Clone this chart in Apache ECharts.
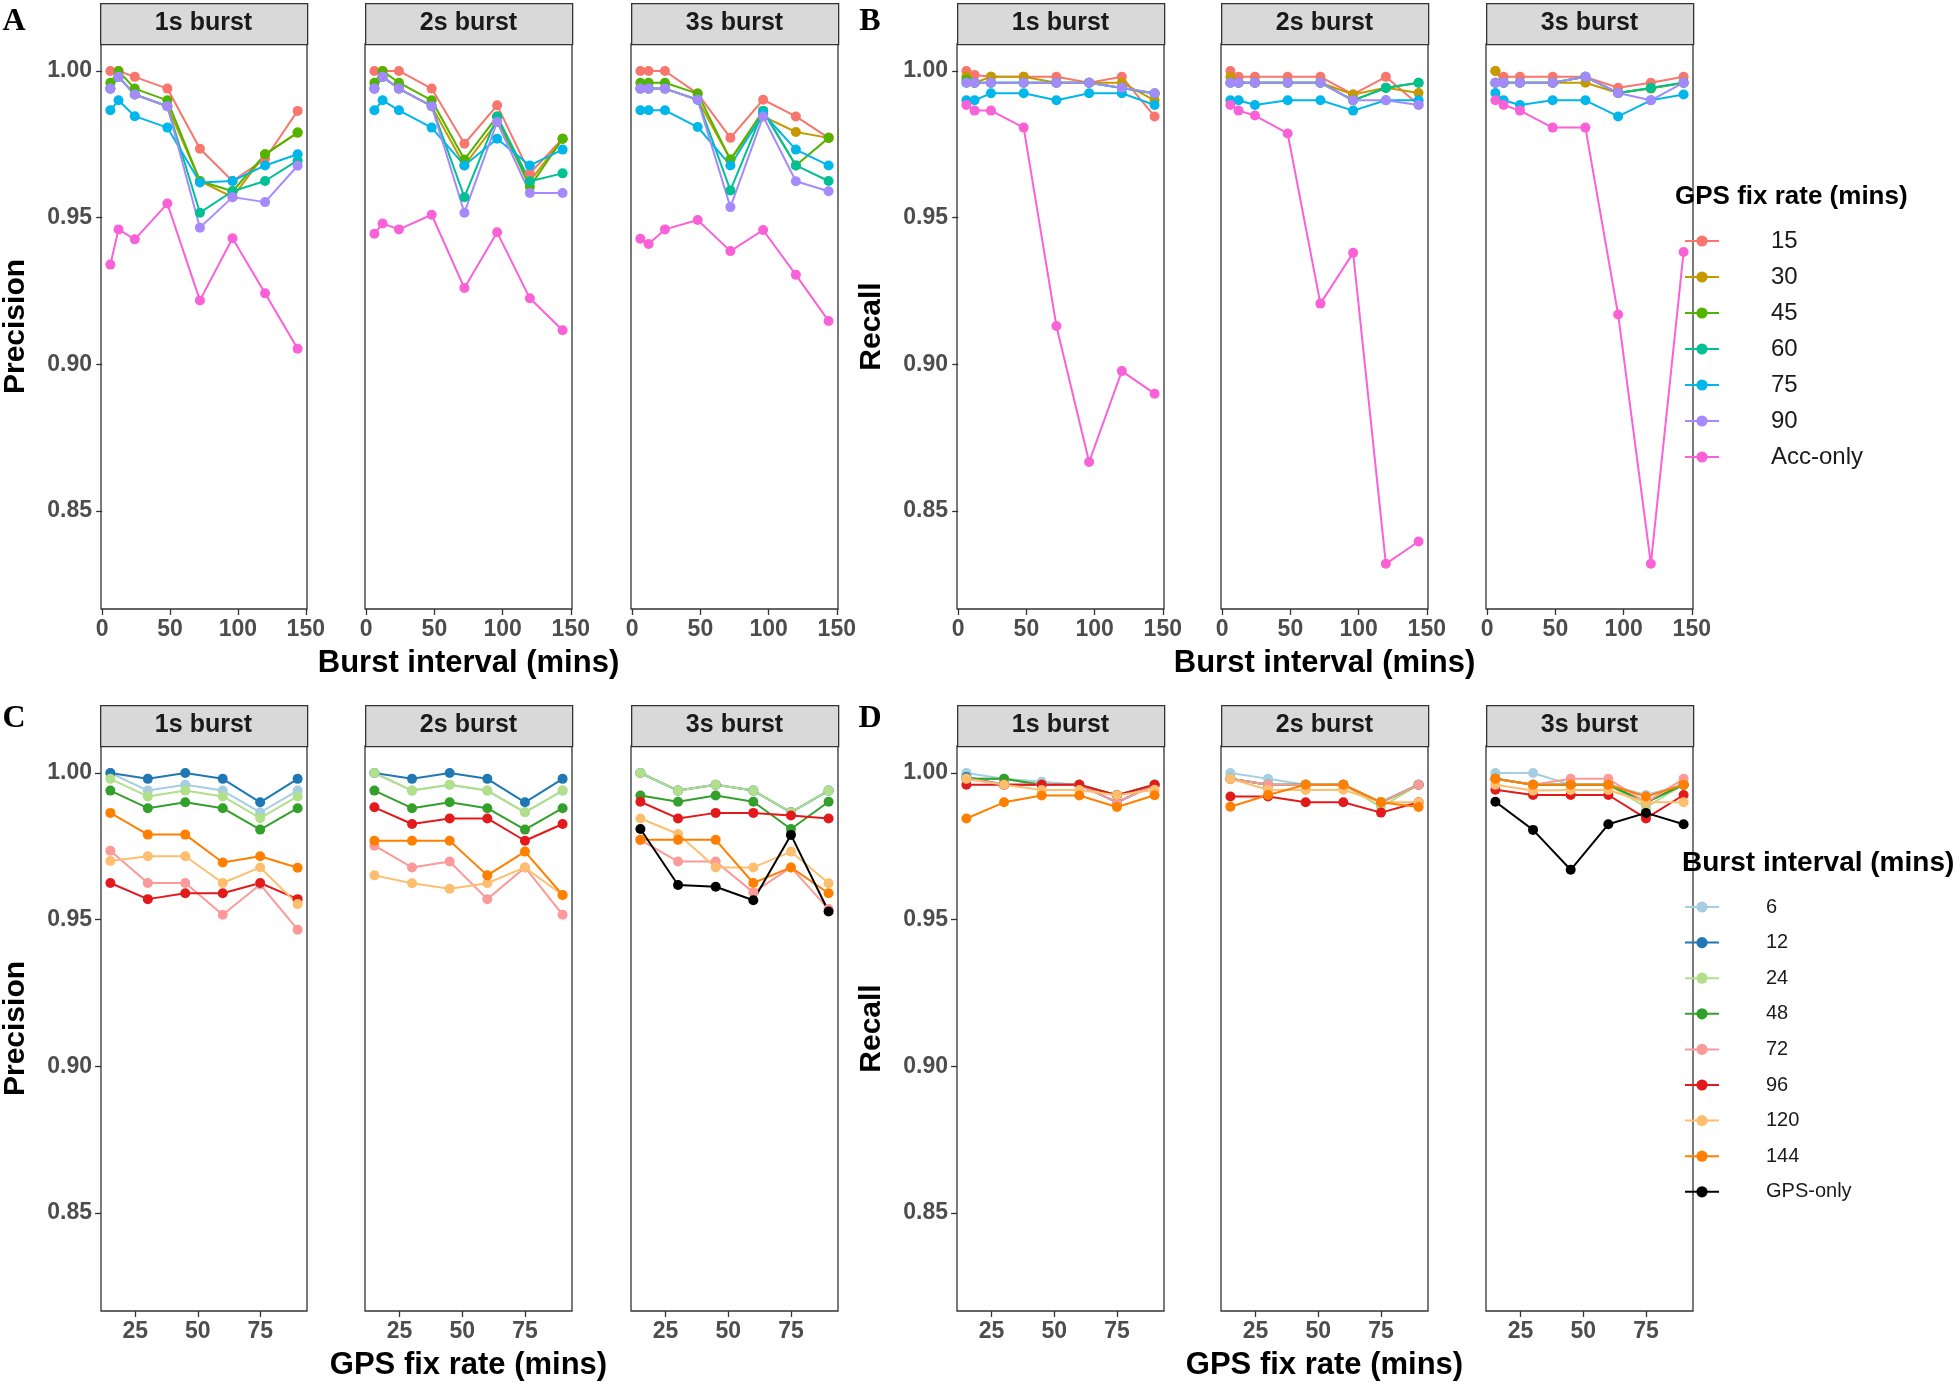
<!DOCTYPE html>
<html><head><meta charset="utf-8">
<script src="https://cdn.jsdelivr.net/npm/echarts@6/dist/echarts.min.js"></script>
<style>html,body{margin:0;padding:0;background:#fff}#c{width:1960px;height:1384px}</style>
</head><body><div id="c"></div>
<script>
// ---------- data ----------
const burstIntervals = [6, 12, 24, 48, 72, 96, 120, 144];
const fixRates = [15, 30, 45, 60, 75, 90];
const fixRateNames = ['15', '30', '45', '60', '75', '90'];
const burstNames = ['6', '12', '24', '48', '72', '96', '120', '144'];
const facetNames = ['1s burst', '2s burst', '3s burst'];
const yTicks = [0.85, 0.90, 0.95, 1.00];
const xTicksBurst = [0, 50, 100, 150];
const xTicksFix = [25, 50, 75];

// rows: burst interval 6..144 ; columns: GPS fix rate 15..90
const precision1s = [
  [1.000, 0.994, 0.996, 0.994, 0.9866, 0.994],
  [1.000, 0.998, 1.000, 0.998, 0.990, 0.998],
  [0.998, 0.992, 0.994, 0.992, 0.9846, 0.992],
  [0.994, 0.988, 0.990, 0.988, 0.9807, 0.988],
  [0.9735, 0.9625, 0.9625, 0.9517, 0.962, 0.9466],
  [0.9625, 0.957, 0.959, 0.959, 0.9625, 0.957],
  [0.970, 0.9716, 0.9716, 0.9625, 0.9678, 0.9553],
  [0.9864, 0.979, 0.979, 0.9695, 0.9716, 0.9677]
];
const precision2s = [
  [1.000, 0.994, 0.996, 0.994, 0.9866, 0.994],
  [1.000, 0.998, 1.000, 0.998, 0.990, 0.998],
  [1.000, 0.994, 0.996, 0.994, 0.9866, 0.994],
  [0.994, 0.988, 0.990, 0.988, 0.9807, 0.988],
  [0.9752, 0.9678, 0.9698, 0.957, 0.9678, 0.9517],
  [0.9883, 0.9826, 0.9845, 0.9845, 0.9769, 0.9826],
  [0.9651, 0.9624, 0.9605, 0.9624, 0.9678, 0.9584],
  [0.9769, 0.9769, 0.9769, 0.9651, 0.9732, 0.9584]
];
const precision3s = [
  [1.000, 0.994, 0.996, 0.994, 0.9866, 0.994],
  [1.000, 0.994, 0.996, 0.994, 0.9866, 0.994],
  [1.000, 0.994, 0.996, 0.994, 0.9866, 0.994],
  [0.9923, 0.9902, 0.9923, 0.9902, 0.9809, 0.9902],
  [0.9772, 0.9698, 0.9698, 0.9593, 0.9678, 0.9536],
  [0.9902, 0.9845, 0.9864, 0.9864, 0.9855, 0.9845],
  [0.9845, 0.9792, 0.9678, 0.9678, 0.9732, 0.9624],
  [0.9772, 0.9772, 0.9772, 0.9625, 0.9678, 0.959]
];
const recall1s = [
  [1.000, 0.998, 0.997, 0.996, 0.990, 0.996],
  [0.9986, 0.996, 0.996, 0.996, 0.990, 0.996],
  [0.998, 0.998, 0.996, 0.996, 0.9924, 0.996],
  [0.998, 0.998, 0.996, 0.996, 0.9924, 0.996],
  [0.998, 0.996, 0.996, 0.996, 0.990, 0.996],
  [0.996, 0.996, 0.996, 0.996, 0.9924, 0.996],
  [0.998, 0.996, 0.9942, 0.9942, 0.9924, 0.9943],
  [0.9845, 0.990, 0.9923, 0.9923, 0.9884, 0.9924]
];
const recall2s = [
  [1.000, 0.998, 0.996, 0.996, 0.990, 0.996],
  [0.998, 0.996, 0.996, 0.996, 0.990, 0.996],
  [0.998, 0.996, 0.996, 0.996, 0.9884, 0.996],
  [0.998, 0.996, 0.996, 0.996, 0.990, 0.996],
  [0.998, 0.996, 0.996, 0.996, 0.990, 0.996],
  [0.992, 0.992, 0.990, 0.990, 0.9865, 0.990],
  [0.998, 0.9943, 0.9942, 0.9943, 0.990, 0.990],
  [0.9885, 0.9925, 0.996, 0.996, 0.990, 0.9884]
];
const recall3s = [
  [1.000, 1.000, 0.996, 0.996, 0.9925, 0.996],
  [0.998, 0.996, 0.996, 0.996, 0.990, 0.996],
  [0.998, 0.996, 0.996, 0.996, 0.9884, 0.996],
  [0.998, 0.996, 0.996, 0.996, 0.990, 0.996],
  [0.998, 0.996, 0.998, 0.998, 0.990, 0.998],
  [0.9943, 0.9925, 0.9925, 0.9925, 0.9845, 0.9925],
  [0.996, 0.994, 0.9942, 0.9942, 0.990, 0.990],
  [0.998, 0.996, 0.996, 0.996, 0.992, 0.996]
];
// Acc-only, by burst interval
const accOnlyPrecision1s = [0.934, 0.946, 0.9426, 0.9548, 0.9218, 0.943, 0.9242, 0.9053];
const accOnlyPrecision2s = [0.9445, 0.948, 0.946, 0.951, 0.926, 0.945, 0.9225, 0.9116];
const accOnlyPrecision3s = [0.9428, 0.941, 0.946, 0.9492, 0.9386, 0.9458, 0.9305, 0.9148];
const accOnlyRecall1s = [0.9884, 0.9865, 0.9865, 0.9807, 0.9131, 0.8667, 0.8977, 0.890];
const accOnlyRecall2s = [0.9884, 0.9865, 0.9848, 0.9787, 0.9207, 0.938, 0.832, 0.8396];
const accOnlyRecall3s = [0.990, 0.9884, 0.9865, 0.9807, 0.9807, 0.917, 0.832, 0.9383];
// GPS-only, by GPS fix rate (3s burst facet only)
const gpsOnlyPrecision3s = [0.9809, 0.9618, 0.9612, 0.9566, 0.9789, 0.9528];
const gpsOnlyRecall3s = [0.9902, 0.9806, 0.967, 0.9825, 0.9864, 0.9825];

const fixColors = ['#F8766D', '#C49A00', '#53B400', '#00C094', '#00B6EB', '#A58AFF', '#FB61D7'];
const burstColors = ['#A6CEE3', '#1F78B4', '#B2DF8A', '#33A02C', '#FB9A99', '#E31A1C', '#FDBF6F', '#FF7F00', '#000000'];

// ---------- layout ----------
const FONT = '"Liberation Sans", Arial, sans-serif';
const colLefts = [[100, 365, 631], [957, 1221, 1486]];
const facetW = 207;
const rowTops = [44, 746];
const plotH = 565;
const stripH = 41;
const yMin = 0.8166, yMax = 1.0092;

const panels = [
  { row: 0, cols: 0, mats: [precision1s, precision2s, precision3s], acc: [accOnlyPrecision1s, accOnlyPrecision2s, accOnlyPrecision3s], byBurst: true, yName: 'Precision', letter: 'A' },
  { row: 0, cols: 1, mats: [recall1s, recall2s, recall3s], acc: [accOnlyRecall1s, accOnlyRecall2s, accOnlyRecall3s], byBurst: true, yName: 'Recall', letter: 'B' },
  { row: 1, cols: 0, mats: [precision1s, precision2s, precision3s], gps: gpsOnlyPrecision3s, byBurst: false, yName: 'Precision', letter: 'C' },
  { row: 1, cols: 1, mats: [recall1s, recall2s, recall3s], gps: gpsOnlyRecall3s, byBurst: false, yName: 'Recall', letter: 'D' }
];

const grid = [], xAxis = [], yAxis = [], series = [], graphic = [];
const tickLabel = { fontSize: 23, fontWeight: 'bold', color: '#4D4D4D', fontFamily: FONT };
const tickLine = { color: '#333333', width: 1.3 };

function addSeries(idx, name, color, data) {
  series.push({
    type: 'line', name: name, xAxisIndex: idx, yAxisIndex: idx,
    data: data, symbol: 'circle', symbolSize: 10, showSymbol: true,
    itemStyle: { color: color }, lineStyle: { color: color, width: 2 },
    emphasis: { disabled: true }, animation: false
  });
}

panels.forEach((p, pi) => {
  for (let f = 0; f < 3; f++) {
    const idx = pi * 3 + f;
    const left = colLefts[p.cols][f];
    const top = rowTops[p.row];
    grid.push({ left: left, top: top, width: facetW, height: plotH, show: true, borderColor: '#333333', borderWidth: 1.3, backgroundColor: '#ffffff' });
    const xTicks = p.byBurst ? xTicksBurst : xTicksFix;
    xAxis.push({
      type: 'value', gridIndex: idx,
      min: p.byBurst ? -0.9 : 11.25, max: p.byBurst ? 150.9 : 93.75,
      splitLine: { show: false }, axisLine: { show: false },
      axisTick: { show: true, customValues: xTicks, length: 6, lineStyle: tickLine },
      axisLabel: Object.assign({ customValues: xTicks, margin: 9, hideOverlap: false }, tickLabel),
      name: f === 1 ? (p.byBurst ? 'Burst interval (mins)' : 'GPS fix rate (mins)') : '',
      nameLocation: 'middle', nameGap: 39,
      nameTextStyle: { fontSize: 31, fontWeight: 'bold', color: '#000', fontFamily: FONT }
    });
    yAxis.push({
      type: 'value', gridIndex: idx, min: yMin, max: yMax,
      splitLine: { show: false }, axisLine: { show: false },
      axisTick: { show: f === 0, customValues: yTicks, length: 6, lineStyle: tickLine },
      axisLabel: Object.assign({ show: f === 0, customValues: yTicks, margin: 9, formatter: v => v.toFixed(2) }, tickLabel),
      name: f === 0 ? p.yName : '', nameLocation: 'middle', nameRotate: 90, nameGap: 70,
      nameTextStyle: { fontSize: 30, fontWeight: 'bold', color: '#000', fontFamily: FONT }
    });
    // strip
    graphic.push({ type: 'rect', left: left, top: top - stripH, shape: { width: facetW, height: stripH },
      style: { fill: '#D9D9D9', stroke: '#333333', lineWidth: 1.3 }, z: 10 });
    graphic.push({ type: 'text', x: left + facetW / 2, y: top - stripH / 2,
      style: { text: facetNames[f], fill: '#1A1A1A', font: 'bold 25px ' + FONT, textAlign: 'center', textVerticalAlign: 'middle' }, z: 11 });

    const mat = p.mats[f];
    if (p.byBurst) {
      fixRates.forEach((fr, j) => {
        addSeries(idx, fixRateNames[j], fixColors[j], burstIntervals.map((b, i) => [b, mat[i][j]]));
      });
      addSeries(idx, 'Acc-only', fixColors[6], burstIntervals.map((b, i) => [b, p.acc[f][i]]));
    } else {
      burstIntervals.forEach((b, i) => {
        addSeries(idx, burstNames[i], burstColors[i], fixRates.map((fr, j) => [fr, mat[i][j]]));
      });
      if (f === 2) addSeries(idx, 'GPS-only', burstColors[8], fixRates.map((fr, j) => [fr, p.gps[j]]));
    }
  }
  // panel letter
  const lx = p.cols === 0 ? 14 : 870;
  const ly = p.row === 0 ? 22 : 719;
  graphic.push({ type: 'text', x: lx, y: ly,
    style: { text: p.letter, fill: '#000', font: 'bold 32px "Liberation Serif", "Times New Roman", serif', textAlign: 'center', textVerticalAlign: 'middle' } });
});

// legend titles
graphic.push({ type: 'text', x: 1675, y: 197, style: { text: 'GPS fix rate (mins)', fill: '#000', font: 'bold 26px ' + FONT, textVerticalAlign: 'middle' } });
graphic.push({ type: 'text', x: 1682, y: 863, style: { text: 'Burst interval (mins)', fill: '#000', font: 'bold 28px ' + FONT, textVerticalAlign: 'middle' } });

const legend = [
  {
    data: fixRateNames.concat(['Acc-only']), orient: 'vertical', left: 1679, top: 224,
    itemWidth: 34, itemHeight: 14, itemGap: 12, selectedMode: false,
    textStyle: { fontSize: 24, color: '#1A1A1A', fontFamily: FONT, lineHeight: 24, padding: [0, 0, 0, 47] }
  },
  {
    data: burstNames.concat(['GPS-only']), orient: 'vertical', left: 1679, top: 890,
    itemWidth: 34, itemHeight: 14, itemGap: 11.6, selectedMode: false,
    textStyle: { fontSize: 20, color: '#1A1A1A', fontFamily: FONT, lineHeight: 24, padding: [0, 0, 0, 42] }
  }
];

const chart = echarts.init(document.getElementById('c'), null, { renderer: 'canvas' });
chart.setOption({
  backgroundColor: '#ffffff', animation: false,
  grid: grid, xAxis: xAxis, yAxis: yAxis, series: series, legend: legend, graphic: graphic
});
</script></body></html>
